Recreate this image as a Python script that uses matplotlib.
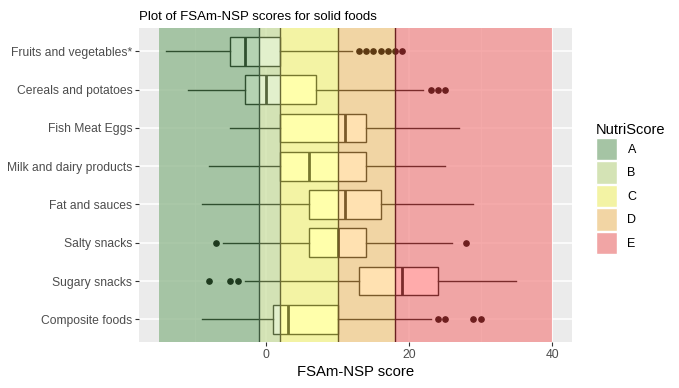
import matplotlib

matplotlib.use("Agg")
import matplotlib.pyplot as plt
from matplotlib.patches import Patch, Rectangle

plt.rcParams["font.family"] = ["Liberation Sans", "DejaVu Sans"]

# data
categories = ["Fruits and vegetables*", "Cereals and potatoes", "Fish Meat Eggs",
              "Milk and dairy products", "Fat and sauces", "Salty snacks",
              "Sugary snacks", "Composite foods"]
whisker_lo = [-14, -11, -5, -8, -9, -6, -3, -9]
q1 = [-5, -3, 2, 2, 6, 6, 13, 1]
median = [-3, 0, 11, 6, 11, 10, 19, 3]
q3 = [2, 7, 14, 14, 16, 14, 24, 10]
whisker_hi = [12, 22, 27, 25, 29, 26, 35, 23]
outliers = [[13, 14, 15, 16, 17, 18, 19], [23, 24, 25], [], [], [], [-7, 28],
            [-8, -5, -4], [24, 25, 29, 30]]

grades = ["A", "B", "C", "D", "E"]
grade_lo = [-15, -1, 2, 10, 18]
grade_hi = [-1, 2, 10, 18, 40]

# colours
band_colors = ["#8eb78c", "#cce0a3", "#f6f68c", "#f4ce8c", "#f38e8e"]
key_colors = ["#a5c4a4", "#d4e3b5", "#f3f3a4", "#f2d5a4", "#f1a5a5"]
box_fill = ["#b4d2b2", "#e2f0cc", "#ffffab", "#ffe1b1", "#ffabab"]
box_edge = ["#2f4f2f", "#56663d", "#77772e", "#7a5a2a", "#7a2b2b"]
flier_col = ["#1e3a1e", "#3f4f2f", "#5e5e1e", "#5e3a12", "#6e1e1e"]
line_col = {-1: "#3f5a3f", 2: "#6a6a35", 10: "#6e5a26", 18: "#6a2020"}

fig = plt.figure(figsize=(6.79, 3.88), dpi=100)
ax = fig.add_axes([0.2052, 0.1178, 0.842 - 0.2052, 0.927 - 0.1178])
ax.set_facecolor("#ebebeb")

n = len(categories)
pos = list(range(n, 0, -1))

ax.set_xlim(-17.75, 42.75)
ax.set_ylim(0.4, n + 0.6)
ax.set_xticks([0, 20, 40])
ax.set_xticks([-10, 10, 30], minor=True)
ax.set_yticks(pos)
ax.set_yticklabels(categories)
ax.grid(True, which="major", color="white", linewidth=1.1, zorder=0)
ax.grid(True, which="minor", axis="x", color="white", linewidth=0.55, zorder=0)
ax.set_axisbelow(True)
for s in ax.spines.values():
    s.set_visible(False)
ax.tick_params(axis="both", which="major", length=3, width=0.8, color="#333333",
               labelsize=8.7, labelcolor="#4d4d4d", pad=2)
ax.tick_params(axis="x", which="minor", length=0)

# NutriScore bands
for lo, hi, c in zip(grade_lo, grade_hi, band_colors):
    ax.axvspan(lo, hi, color=c, alpha=0.75, lw=0, zorder=1)

stats = []
for i in range(n):
    stats.append({"whislo": whisker_lo[i], "q1": q1[i], "med": median[i],
                  "q3": q3[i], "whishi": whisker_hi[i], "fliers": outliers[i]})

# draw the boxplots once per band, clipped to the band
for g in range(len(grades)):
    parts = ax.bxp(stats, positions=pos, widths=0.75, orientation="horizontal",
                   patch_artist=True, showcaps=False, manage_ticks=False,
                   boxprops=dict(facecolor=box_fill[g], edgecolor=box_edge[g], linewidth=1.0),
                   medianprops=dict(color=box_edge[g], linewidth=2.0),
                   whiskerprops=dict(color=box_edge[g], linewidth=1.0),
                   flierprops=dict(marker="o", markersize=3.8, markerfacecolor=flier_col[g],
                                   markeredgecolor=flier_col[g], linestyle="none"))
    clip = Rectangle((grade_lo[g], -5), grade_hi[g] - grade_lo[g], 20,
                     transform=ax.transData)
    for key, artists in parts.items():
        for a in artists:
            a.set_zorder(3)
            a.set_clip_path(clip)

for x, c in line_col.items():
    ax.axvline(x, color=c, linewidth=1.0, zorder=4)

ax.set_xlabel("FSAm-NSP score", fontsize=10.7, color="black", labelpad=3)
ax.set_title("Plot of FSAm-NSP scores for solid foods", fontsize=9.5, loc="left",
             pad=6, color="black")

handles = [Patch(facecolor=c, edgecolor="white", linewidth=1.0, label=g)
           for g, c in zip(grades, key_colors)]
leg = fig.legend(handles=handles, title="NutriScore", loc="upper left",
                 bbox_to_anchor=(0.868, 0.70), frameon=False, fontsize=9,
                 title_fontsize=10.5, handlelength=1.75, handleheight=2.4,
                 labelspacing=0.08, handletextpad=0.8, borderpad=0)
leg._legend_box.align = "left"

fig.savefig("out.png", dpi=100)
